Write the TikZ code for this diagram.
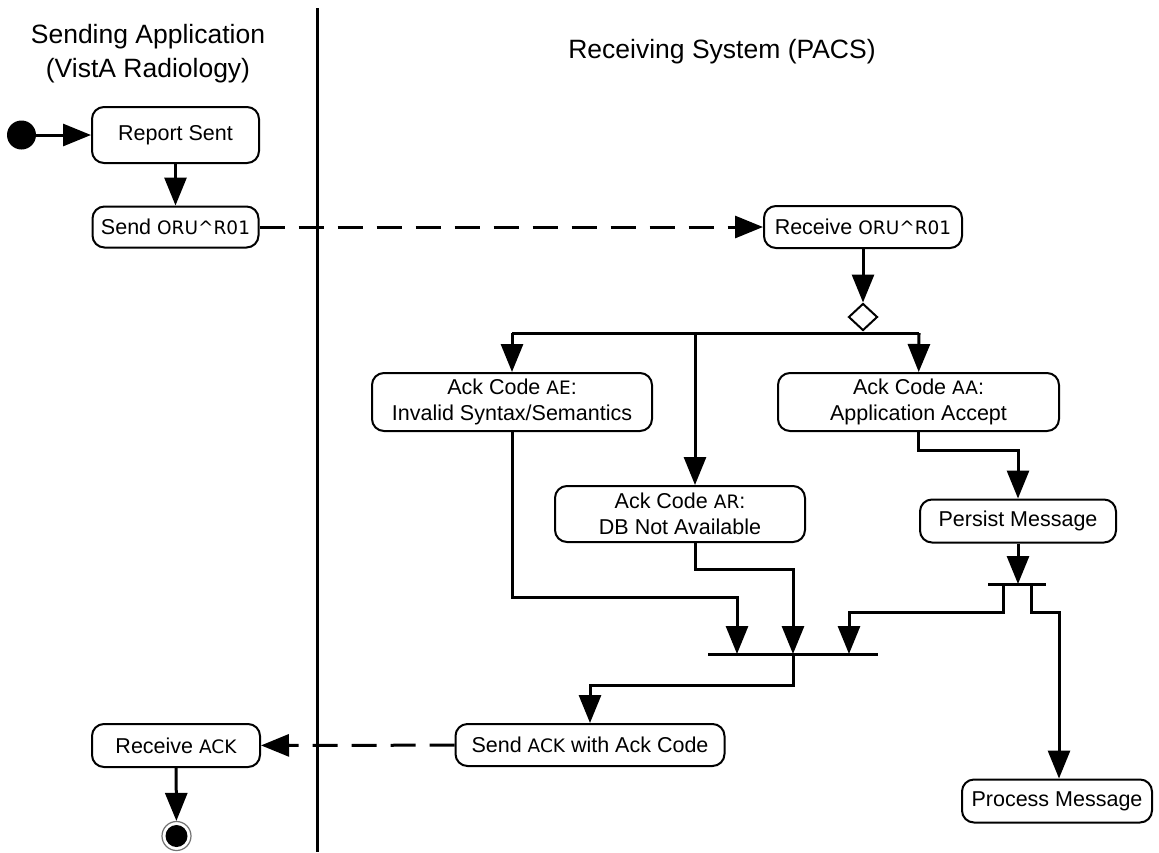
\documentclass[tikz,border=0pt]{standalone}
\usepackage{fontspec}
\setmainfont{Liberation Sans}
\newfontfamily\codefont{DejaVu Sans}
\usetikzlibrary{arrows.meta,shapes.geometric}
\newcommand\code[1]{{\codefont\fontsize{18.5}{26}\selectfont #1}}
\tikzset{
  box/.style={draw, line width=2pt, rounded corners=12pt, align=center, inner sep=0pt,
    font=\fontsize{21.5}{26}\selectfont},
  line/.style={line width=3pt},
  conn/.style={line width=3pt, -{Triangle[length=28pt,width=22pt]}},
  dconn/.style={conn, dash pattern=on 25pt off 14pt},
  bar/.style={line width=3pt},
  title/.style={font=\fontsize{26.5}{34}\selectfont, anchor=base},
}
\begin{document}
\begin{tikzpicture}[x=1pt,y=-1pt]
\useasboundingbox[fill=white] (0,0) rectangle (1159,852);
% titles and swimlane
\node[title] (t1) at (148,43) {Sending Application};
\node[title] (t2) at (148,77) {(VistA Radiology)};
\node[title] (t3) at (722,58) {Receiving System (PACS)};
\coordinate (laneTop) at (317,8);
\coordinate (laneBot) at (317,852);
\draw[line width=3pt] (laneTop) -- (laneBot);
% nodes
\node[circle, fill=black, minimum size=29pt, inner sep=0pt] (init) at (21.5,135) {};
\node[box, minimum width=167pt, minimum height=56pt] (report) at (175.5,135) {Report Sent};
\node[box, minimum width=166pt, minimum height=41pt] (sendoru) at (175.5,227) {Send \code{ORU\textasciicircum R01}};
\node[box, minimum width=198pt, minimum height=42pt] (recvoru) at (863,227) {Receive \code{ORU\textasciicircum R01}};
\node[diamond, draw, line width=2pt, minimum width=29pt, minimum height=27pt, inner sep=0pt] (dia) at (863,317) {};
\node[box, minimum width=280pt, minimum height=58pt] (ae) at (512,402) {Ack Code \code{AE}:\\Invalid Syntax/Semantics};
\node[box, minimum width=281pt, minimum height=58pt] (aa) at (918.5,402) {Ack Code \code{AA}:\\Application Accept};
\node[box, minimum width=250pt, minimum height=56pt] (ar) at (680,514) {Ack Code \code{AR}:\\DB Not Available};
\node[box, minimum width=196pt, minimum height=43pt] (persist) at (1018,521) {Persist Message};
\node[box, minimum width=269pt, minimum height=42pt] (sendack) at (590,745) {Send \code{ACK} with Ack Code};
\node[box, minimum width=168pt, minimum height=43pt] (recvack) at (176,745.5) {Receive \code{ACK}};
\node[box, minimum width=190pt, minimum height=43pt] (process) at (1057,801) {Process Message};
\node[circle, draw=black!55, line width=1.2pt, minimum size=29pt, inner sep=0pt,
  path picture={\fill[black] (path picture bounding box.center) circle (11pt);}] (final) at (176.5,836) {};
% coordinates
\coordinate (bl) at (512,333);
\coordinate (bm) at (695,333);
\coordinate (br) at (919,333);
\coordinate (aeturn) at (737,597);
\coordinate (arturn) at (793,569);
\coordinate (aaturn) at (1018,450);
\coordinate (j1) at (737,654);
\coordinate (j2) at (793,654);
\coordinate (j3) at (849,654);
\coordinate (joinL) at (708,654);
\coordinate (joinR) at (878,654);
\coordinate (forkL) at (988,584);
\coordinate (forkR) at (1046,584);
\coordinate (forkC) at (1018,584);
\coordinate (fA) at (1003,584);
\coordinate (fB) at (1031,584);
\coordinate (turnA) at (849,612);
\coordinate (turnB) at (1059,612);
\coordinate (turnC) at (590,685);
% connectors
\draw[conn] (init) -- (report);
\draw[conn] (report) -- (sendoru);
\draw[dconn] (sendoru) -- (recvoru);
\draw[conn] (recvoru) -- (dia);
\draw[line] (dia.south) -- (dia.south |- bl);
\draw[line] (bl) -- (br);
\draw[conn] (bl) -- (ae);
\draw[conn] (bm) -- (bm |- ar.north);
\draw[conn] (br) -- (aa);
\draw[conn] (ae.south) |- (aeturn) -- (j1);
\draw[conn] (bm |- ar.south) |- (arturn) -- (j2);
\draw[conn] (aa.south) |- (aaturn) -- (persist);
\draw[conn] (persist) -- (forkC);
\draw[bar] (forkL) -- (forkR);
\draw[conn] (fA) |- (turnA) -- (j3);
\draw[conn] (fB) |- (turnB) -- (turnB |- process.north);
\draw[bar] (joinL) -- (joinR);
\draw[conn] (j2) |- (turnC) -- (sendack);
\draw[dconn] (sendack) -- (recvack);
\draw[conn] (recvack) -- (final);
\end{tikzpicture}
\end{document}
